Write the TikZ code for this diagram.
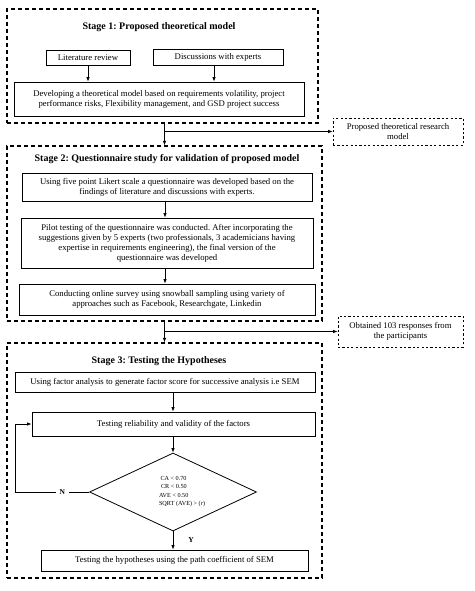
\documentclass[tikz,border=0pt]{standalone}
\usepackage{fontspec}
\setmainfont{Liberation Serif}
\usetikzlibrary{arrows.meta,shapes.geometric,calc}
\frenchspacing
\begin{document}
\begin{tikzpicture}[x=1pt,y=-1pt,
  font=\fontsize{8.7}{10}\selectfont,
  box/.style={draw,line width=0.8pt,inner sep=1pt,align=flush center,text width=#1-4pt,minimum width=#1},
  stagebox/.style={draw,line width=1.3pt,dash pattern=on 4pt off 3pt,inner sep=0pt},
  sidebox/.style={draw,line width=0.7pt,dash pattern=on 2.2pt off 2.2pt,inner sep=1pt,align=flush center,text width=#1-4pt,minimum width=#1},
  arr/.style={line width=0.8pt,-{Latex[length=4.5pt,width=3.5pt]}},
  title/.style={font=\fontsize{10}{12}\selectfont\bfseries},
  lbl/.style={font=\fontsize{7.5}{9}\selectfont\bfseries}
]
\useasboundingbox (0,0) rectangle (474,591);
% stage boxes
\node[stagebox,minimum width=311pt,minimum height=114pt] (s1) at (162.5,66) {};
\node[stagebox,minimum width=315pt,minimum height=175pt] (s2) at (164.5,233.5) {};
\node[stagebox,minimum width=315pt,minimum height=235pt] (s3) at (164.5,460.5) {};
% stage 1
\node[title] (t1) at (159,27) {Stage 1: Proposed theoretical model};
\node[box=84pt,minimum height=15pt] (lit) at (88,57.5) {Literature review};
\node[box=130pt,minimum height=16pt] (disc) at (218,57) {Discussions with experts};
\node[box=290pt,minimum height=34pt] (dev) at (159,99) {Developing a theoretical model based on requirements volatility, project\\performance risks, Flexibility management, and GSD project success};
\draw[arr] (lit) -- (lit |- dev.north);
\draw[arr] (disc.south -| 214,0) -- (dev.north -| 214,0);
% side box 1
\node[sidebox=130pt,minimum height=27pt] (prop) at (398,131.5) {Proposed theoretical research\\model};
\draw[arr] (s1.south -| s2.north) -- (s2.north);
\draw[arr] (s2.north |- prop.west) -- (prop.west);
% stage 2
\node[title] (t2) at (167,159) {Stage 2: Questionnaire study for validation of proposed model};
\node[box=290pt,minimum height=28pt] (q1) at (167,187) {Using five point Likert scale a questionnaire was developed based on the\\findings of literature and discussions with experts.};
\node[box=292pt,minimum height=50pt] (q2) at (167,243) {Pilot testing of the questionnaire was conducted. After incorporating the\\suggestions given by 5 experts (two professionals, 3 academicians having\\expertise in requirements engineering), the final version of the\\questionnaire was developed};
\node[box=296pt,minimum height=31pt] (q3) at (167,299.5) {Conducting online survey using snowball sampling using variety of\\approaches such as Facebook, Researchgate, Linkedin};
\draw[arr] (q1.south -| 165,0) -- (q2.north -| 165,0);
\draw[arr] (q2.south -| 165,0) -- (q3.north -| 165,0);
% side box 2
\node[sidebox=125pt,minimum height=31pt] (obt) at (400.5,331.5) {Obtained 103 responses from\\the participants};
\draw[arr] (s2.south) -- (s3.north);
\draw[arr] (s3.north |- obt.west) -- (obt.west);
% stage 3
\node[title] (t3) at (159,361) {Stage 3: Testing the Hypotheses};
\node[box=300pt,minimum height=20pt] (f1) at (165,382) {Using factor analysis to generate factor score for successive analysis i.e SEM};
\node[box=283pt,minimum height=24pt] (f2) at (173.5,424) {Testing reliability and validity of the factors};
\node[draw,line width=0.8pt,diamond,inner sep=0pt,minimum width=167pt,minimum height=78pt] (dia) at (173,492) {};
\node[font=\fontsize{6.2}{8.4}\selectfont,align=left,anchor=west] (dtext) at (155.5,491.5) {\hspace*{1.5pt}CA < 0.70\\\hspace*{2pt}CR < 0.50\\AVE < 0.50\\SQRT (AVE) > (\textit{r})};
\node[box=267pt,minimum height=21pt] (f3) at (174.5,560.5) {Testing the hypotheses using the path coefficient of SEM};
\draw[arr] (f1.south -| 173,0) -- (f2.north -| 173,0);
\draw[arr] (f2.south -| dia.north) -- (dia.north);
\draw[arr] (dia.south) -- (f3.north -| dia.south);
\node[lbl] (ylbl) at (191,540) {Y};
\coordinate (nl) at (15,492);
\draw[arr] (dia.west) -- node[pos=0.36,fill=white,inner sep=4pt,lbl] {N} (nl) -- (nl |- f2.west) -- (f2.west);
\end{tikzpicture}
\end{document}
